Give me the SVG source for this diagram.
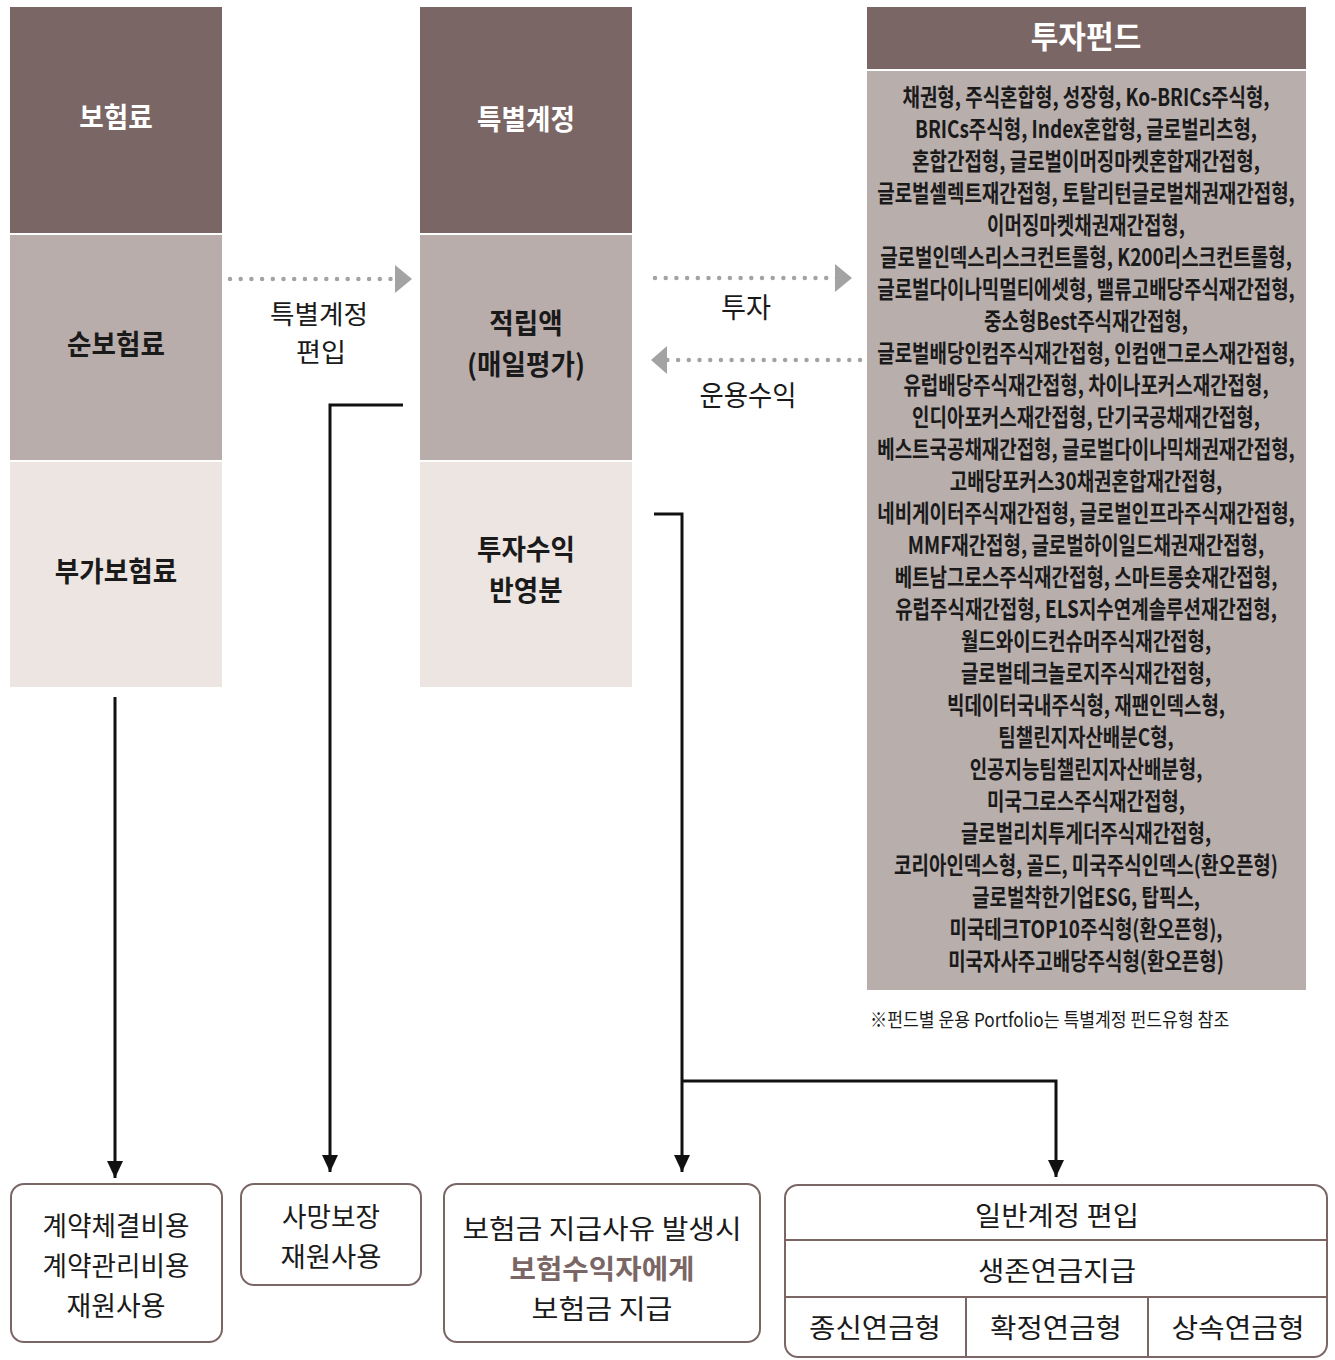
<svg xmlns="http://www.w3.org/2000/svg" width="1335" height="1360" viewBox="0 0 1335 1360">
<style>
text{font-family:"Noto Sans CJK KR","Noto Sans",sans-serif;text-anchor:middle;fill:#1a1a1a}
.wb{fill:#ffffff;font-weight:700;font-size:28px}
.db{fill:#1a1a1a;font-weight:700;font-size:28px}
.lbl{font-size:28px;font-weight:400}
.bot{font-size:27px;font-weight:400}
.fund{font-size:24px;font-weight:700}
.note{font-size:19px;font-weight:400;text-anchor:start}
.dark{fill:#7b6666}
.mid{fill:#b9adac}
.light{fill:#ede5e1}
.box{fill:#ffffff;stroke:#7b6666;stroke-width:2}
.div{stroke:#7b6666;stroke-width:2}
.dot{stroke:#a3a3a3;stroke-width:4.5;stroke-linecap:round;stroke-dasharray:0 10.7;fill:none}
.ah{fill:#a3a3a3}
.bl{stroke:#111;stroke-width:3;fill:none}
</style>
<defs>
<marker id="arr" markerWidth="17" markerHeight="16" refX="17" refY="8" orient="auto" markerUnits="userSpaceOnUse" viewBox="0 0 17 16">
<path d="M0,0 L17,8 L0,16 Z" fill="#111"/>
</marker>
</defs>

<g id="col-premium">
<rect class="dark" x="10" y="7" width="212" height="226"/>
<rect class="mid" x="10" y="235" width="212" height="225"/>
<rect class="light" x="10" y="462" width="212" height="225"/>
<text class="wb" transform="translate(116 128) scale(0.95 1)">보험료</text>
<text class="db" transform="translate(116 355) scale(0.95 1)">순보험료</text>
<text class="db" transform="translate(116 582) scale(0.95 1)">부가보험료</text>
</g>

<g id="col-special">
<rect class="dark" x="420" y="7" width="212" height="226"/>
<rect class="mid" x="420" y="235" width="212" height="225"/>
<rect class="light" x="420" y="462" width="212" height="225"/>
<text class="wb" transform="translate(526 130) scale(0.95 1)">특별계정</text>
<text class="db" transform="translate(526 334) scale(0.95 1)">적립액</text>
<text class="db" transform="translate(526 375) scale(0.95 1)">(매일평가)</text>
<text class="db" transform="translate(526 560) scale(0.95 1)">투자수익</text>
<text class="db" transform="translate(526 601) scale(0.95 1)">반영분</text>
</g>

<g id="fund">
<rect class="dark" x="867" y="7" width="439" height="62"/>
<rect fill="#b8aeac" x="867" y="71" width="439" height="919"/>
<text class="wb" style="font-size:31px" transform="translate(1086 48) scale(0.97 1)">투자펀드</text>
<g transform="translate(1086 0) scale(0.79 1)">
<text class="fund" x="0" y="106">채권형, 주식혼합형, 성장형, Ko-BRICs주식형,</text>
<text class="fund" x="0" y="138">BRICs주식형, Index혼합형, 글로벌리츠형,</text>
<text class="fund" x="0" y="170">혼합간접형, 글로벌이머징마켓혼합재간접형,</text>
<text class="fund" x="0" y="202">글로벌셀렉트재간접형, 토탈리턴글로벌채권재간접형,</text>
<text class="fund" x="0" y="234">이머징마켓채권재간접형,</text>
<text class="fund" x="0" y="266">글로벌인덱스리스크컨트롤형, K200리스크컨트롤형,</text>
<text class="fund" x="0" y="298">글로벌다이나믹멀티에셋형, 밸류고배당주식재간접형,</text>
<text class="fund" x="0" y="330">중소형Best주식재간접형,</text>
<text class="fund" x="0" y="362">글로벌배당인컴주식재간접형, 인컴앤그로스재간접형,</text>
<text class="fund" x="0" y="394">유럽배당주식재간접형, 차이나포커스재간접형,</text>
<text class="fund" x="0" y="426">인디아포커스재간접형, 단기국공채재간접형,</text>
<text class="fund" x="0" y="458">베스트국공채재간접형, 글로벌다이나믹채권재간접형,</text>
<text class="fund" x="0" y="490">고배당포커스30채권혼합재간접형,</text>
<text class="fund" x="0" y="522">네비게이터주식재간접형, 글로벌인프라주식재간접형,</text>
<text class="fund" x="0" y="554">MMF재간접형, 글로벌하이일드채권재간접형,</text>
<text class="fund" x="0" y="586">베트남그로스주식재간접형, 스마트롱숏재간접형,</text>
<text class="fund" x="0" y="618">유럽주식재간접형, ELS지수연계솔루션재간접형,</text>
<text class="fund" x="0" y="650">월드와이드컨슈머주식재간접형,</text>
<text class="fund" x="0" y="682">글로벌테크놀로지주식재간접형,</text>
<text class="fund" x="0" y="714">빅데이터국내주식형, 재팬인덱스형,</text>
<text class="fund" x="0" y="746">팀챌린지자산배분C형,</text>
<text class="fund" x="0" y="778">인공지능팀챌린지자산배분형,</text>
<text class="fund" x="0" y="810">미국그로스주식재간접형,</text>
<text class="fund" x="0" y="842">글로벌리치투게더주식재간접형,</text>
<text class="fund" x="0" y="874">코리아인덱스형, 골드, 미국주식인덱스(환오픈형)</text>
<text class="fund" x="0" y="906">글로벌착한기업ESG, 탑픽스,</text>
<text class="fund" x="0" y="938">미국테크TOP10주식형(환오픈형),</text>
<text class="fund" x="0" y="970">미국자사주고배당주식형(환오픈형)</text>
</g>
</g>

<g id="note">
<text class="note" transform="translate(870 1027) scale(0.905 1)">※펀드별 운용 Portfolio는 특별계정 펀드유형 참조</text>
</g>

<g id="box-cost">
<rect class="box" x="11" y="1184" width="211" height="158" rx="13"/>
<text class="bot" x="116" y="1236" textLength="147" lengthAdjust="spacingAndGlyphs">계약체결비용</text>
<text class="bot" x="116" y="1276" textLength="147" lengthAdjust="spacingAndGlyphs">계약관리비용</text>
<text class="bot" x="116" y="1316" textLength="99" lengthAdjust="spacingAndGlyphs">재원사용</text>
</g>

<g id="box-death">
<rect class="box" x="241" y="1184" width="180" height="101" rx="13"/>
<text class="bot" x="331" y="1227" textLength="98" lengthAdjust="spacingAndGlyphs">사망보장</text>
<text class="bot" x="331" y="1267" textLength="101" lengthAdjust="spacingAndGlyphs">재원사용</text>
</g>

<g id="box-claim">
<rect class="box" x="444" y="1184" width="316" height="158" rx="13"/>
<text class="bot" x="602" y="1239" textLength="279" lengthAdjust="spacingAndGlyphs">보험금 지급사유 발생시</text>
<text class="bot" style="fill:#7b6666;font-weight:700" x="602" y="1279" textLength="185" lengthAdjust="spacingAndGlyphs">보험수익자에게</text>
<text class="bot" x="602" y="1319" textLength="141" lengthAdjust="spacingAndGlyphs">보험금 지급</text>
</g>

<g id="box-annuity">
<rect class="box" x="785" y="1185" width="542" height="172" rx="13"/>
<line class="div" x1="785" y1="1240" x2="1327" y2="1240"/>
<line class="div" x1="785" y1="1297" x2="1327" y2="1297"/>
<line class="div" x1="966" y1="1297" x2="966" y2="1357"/>
<line class="div" x1="1148" y1="1297" x2="1148" y2="1357"/>
<text class="bot" x="1057" y="1226" textLength="164" lengthAdjust="spacingAndGlyphs">일반계정 편입</text>
<text class="bot" x="1057" y="1281" textLength="158" lengthAdjust="spacingAndGlyphs">생존연금지급</text>
<text class="bot" x="875" y="1338" textLength="132" lengthAdjust="spacingAndGlyphs">종신연금형</text>
<text class="bot" x="1056" y="1338" textLength="132" lengthAdjust="spacingAndGlyphs">확정연금형</text>
<text class="bot" x="1238" y="1338" textLength="133" lengthAdjust="spacingAndGlyphs">상속연금형</text>
</g>

<g id="connectors">
<line class="dot" x1="230" y1="279" x2="398" y2="279"/>
<path class="ah" d="M395,265 L412,279 L395,293 Z"/>
<line class="dot" x1="655" y1="278" x2="838" y2="278"/>
<path class="ah" d="M835,264 L852,278 L835,292 Z"/>
<line class="dot" x1="860" y1="360" x2="664" y2="360"/>
<path class="ah" d="M667,346 L651,360 L667,374 Z"/>
<text class="lbl" style="font-size:26px" x="319" y="324" textLength="98" lengthAdjust="spacingAndGlyphs">특별계정</text>
<text class="lbl" style="font-size:26px" x="321" y="362" textLength="50" lengthAdjust="spacingAndGlyphs">편입</text>
<text class="lbl" x="746" y="318" textLength="50" lengthAdjust="spacingAndGlyphs">투자</text>
<text class="lbl" x="748" y="406" textLength="97" lengthAdjust="spacingAndGlyphs">운용수익</text>
<path class="bl" d="M115,697 L115,1178" marker-end="url(#arr)"/>
<path class="bl" d="M403,405 L330,405 L330,1172" marker-end="url(#arr)"/>
<path class="bl" d="M654,514 L682,514 L682,1172" marker-end="url(#arr)"/>
<path class="bl" d="M682,1081 L1056,1081 L1056,1177" marker-end="url(#arr)"/>
</g>
</svg>
